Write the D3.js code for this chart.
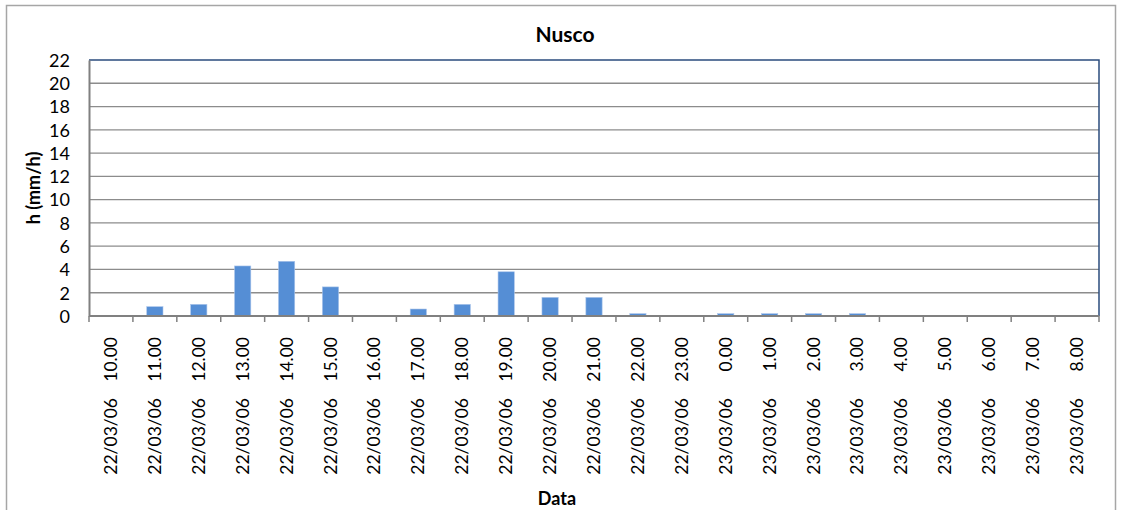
<!DOCTYPE html>
<html><head><meta charset="utf-8">
<script src="https://cdn.jsdelivr.net/npm/d3@7"></script>
<style>body{margin:0;background:#fff;} svg{display:block;}</style>
</head><body>
<script>
const dates = ["22/03/06","22/03/06","22/03/06","22/03/06","22/03/06","22/03/06","22/03/06","22/03/06","22/03/06","22/03/06","22/03/06","22/03/06","22/03/06","22/03/06","23/03/06","23/03/06","23/03/06","23/03/06","23/03/06","23/03/06","23/03/06","23/03/06","23/03/06"];
const times = ["10.00","11.00","12.00","13.00","14.00","15.00","16.00","17.00","18.00","19.00","20.00","21.00","22.00","23.00","0.00","1.00","2.00","3.00","4.00","5.00","6.00","7.00","8.00"];
const values = [0,0.8,1.0,4.3,4.7,2.5,0,0.6,1.0,3.8,1.6,1.6,0.2,0,0.2,0.2,0.2,0.2,0,0,0,0,0];
const yTicks = [0,2,4,6,8,10,12,14,16,18,20,22];
const title = "Nusco", xTitle = "Data", yTitle = "h (mm/h)";

const W = 1123, H = 510;
const L = 89, R = 1099, T = 60, B = 316;
const font = "Lato, 'Open Sans', sans-serif";

const svg = d3.select("body").append("svg").attr("width", W).attr("height", H);
svg.append("rect").attr("x", 6.5).attr("y", 5.5).attr("width", 1109).attr("height", 520)
  .attr("fill", "#fff").attr("stroke", "#a6a6a6").attr("stroke-width", 1.5);

const cats = d3.range(values.length);
const x = d3.scaleBand().domain(cats).range([L, R]).paddingInner(0).paddingOuter(0);
const y = d3.scaleLinear().domain([0, 22]).range([B, T]);

// gridlines
svg.append("g").selectAll("line").data(yTicks.filter(d => d > 0 && d < 22)).join("line")
  .attr("x1", L).attr("x2", R).attr("y1", d => y(d)).attr("y2", d => y(d))
  .attr("stroke", "#8c8c8c").attr("stroke-width", 1.3);
// top and right border (dark blue)
svg.append("path").attr("d", `M${L},${y(22)}H${R}V${B}`).attr("fill", "none")
  .attr("stroke", "#2b4c7e").attr("stroke-width", 1.5);

// bars
const bw = x.bandwidth() * 0.37;
svg.append("g").selectAll("rect").data(values).join("rect")
  .attr("x", (d, i) => x(i) + x.bandwidth() / 2 - bw / 2)
  .attr("y", d => y(d)).attr("width", bw).attr("height", d => y(0) - y(d))
  .attr("fill", "#558ed5").attr("stroke", "#a9c4ea").attr("stroke-width", 0.6);

// y axis
const yAxis = d3.axisLeft(y).tickValues(yTicks).tickSize(0).tickPadding(19);
const gy = svg.append("g").attr("transform", `translate(${L},0)`).call(yAxis);
gy.select(".domain").attr("stroke", "#808080").attr("stroke-width", 2);
gy.selectAll("text").attr("font-family", font).attr("font-size", 18).attr("fill", "#000").attr("dy", "0.35em");

// x axis
const tickPos = d3.range(values.length + 1).map(i => L + i * x.bandwidth());
const gx = svg.append("g");
gx.append("line").attr("x1", L).attr("x2", R).attr("y1", B).attr("y2", B).attr("stroke", "#808080").attr("stroke-width", 2);
gx.selectAll("line.t").data(tickPos).join("line").attr("class", "t")
  .attr("x1", d => d).attr("x2", d => d).attr("y1", B).attr("y2", B + 6)
  .attr("stroke", "#808080").attr("stroke-width", 1.5);

const lab = svg.append("g").selectAll("g").data(cats).join("g")
  .attr("transform", i => `translate(${x(i) + x.bandwidth() / 2 + 6},0) rotate(-90)`);
lab.append("text").attr("x", -337).attr("y", 0).attr("text-anchor", "end")
  .attr("font-family", font).attr("font-size", 17.5).text(i => times[i]);
lab.append("text").attr("x", -398).attr("y", 0).attr("text-anchor", "end")
  .attr("font-family", font).attr("font-size", 17.5).text(i => dates[i]);

// titles
svg.append("text").attr("x", 565).attr("y", 42).attr("text-anchor", "middle")
  .attr("font-family", font).attr("font-weight", "bold").attr("font-size", 21).text(title);
svg.append("text").attr("x", 557).attr("y", 505).attr("text-anchor", "middle")
  .attr("font-family", font).attr("font-weight", "bold").attr("font-size", 18).text(xTitle);
svg.append("text").attr("transform", `translate(40,${(T + B) / 2}) rotate(-90)`).attr("text-anchor", "middle")
  .attr("font-family", font).attr("font-weight", "bold").attr("font-size", 18).text(yTitle);
</script>
</body></html>
